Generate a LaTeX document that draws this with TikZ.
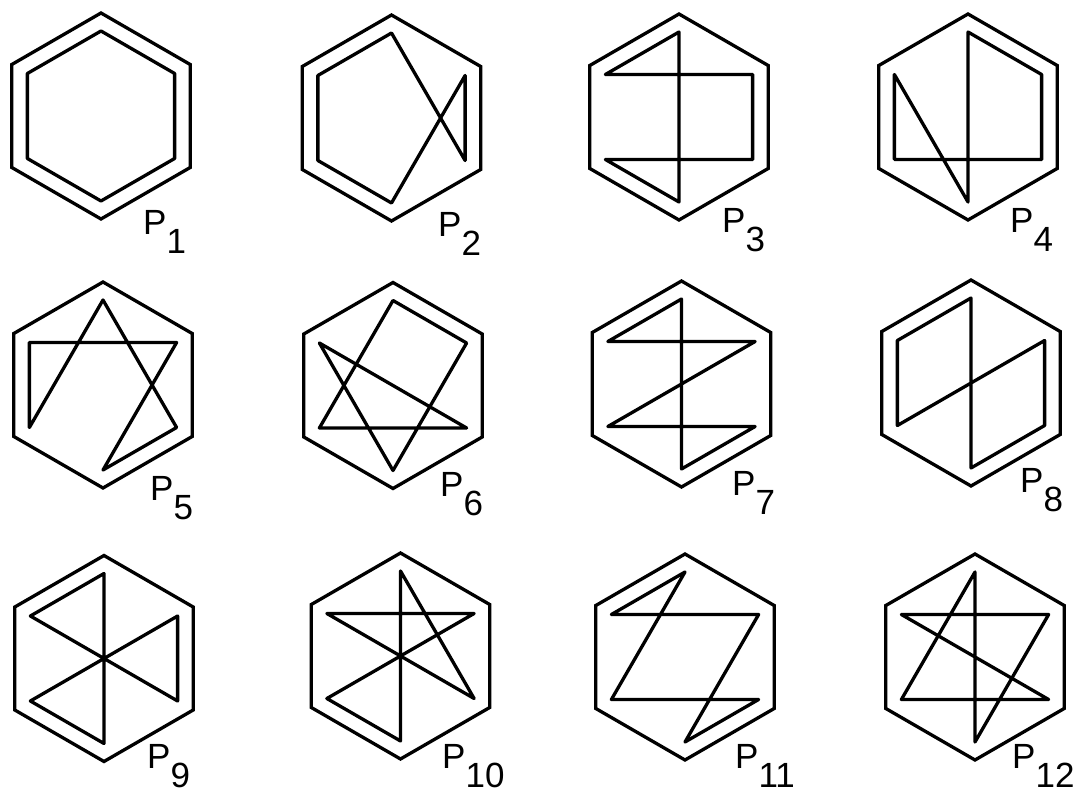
\documentclass[tikz,border=0pt]{standalone}
\usepackage{fontspec}
\setmainfont{Liberation Sans}
\usetikzlibrary{calc}
\tikzset{
  outerhex/.style={line width=3.3pt, line join=miter},
  innerpath/.style={line width=3.3pt, line join=round},
  plabel/.style={anchor=base west, inner sep=0pt, font=\fontsize{35}{40}\selectfont},
}
% #1 name, #2 cx, #3 cy (pixels from top), #4 first vertex, #5 remaining vertices,
% #6 label x, #7 label baseline y (pixels from top), #8 number
\newcommand{\hexpic}[8]{%
  \coordinate (#1) at ({#2},{796-#3});
  \draw[outerhex] ($(#1)+(90:103pt)$) -- ($(#1)+(30:103pt)$) -- ($(#1)+(-30:103pt)$)
     -- ($(#1)+(-90:103pt)$) -- ($(#1)+(-150:103pt)$) -- ($(#1)+(150:103pt)$) -- cycle;
  \foreach \k/\a in {1/90,2/30,3/-30,4/-90,5/-150,6/150}{\coordinate (#1-\k) at ($(#1)+(\a:85pt)$);}
  \draw[innerpath] (#1-#4) \foreach \k in {#5}{ -- (#1-\k)} -- cycle;
  \node[plabel] (#1-lab) at ({#6},{796-#7}) {P\raisebox{-19pt}{#8}};
}
\begin{document}
\begin{tikzpicture}[x=1pt,y=1pt]
\useasboundingbox (0,0) rectangle (1084,796);
\hexpic{pa}{101}{116}{1}{2,3,4,5,6}{143}{235}{1}
\hexpic{pb}{391.5}{118}{1}{3,2,4,5,6}{438}{237}{2}
\hexpic{pc}{679}{117}{1}{4,5,3,2,6}{722}{233}{3}
\hexpic{pd}{968}{117}{1}{2,3,5,6,4}{1010}{233}{4}
\hexpic{pe}{103}{385}{1}{3,4,2,6,5}{150}{500}{5}
\hexpic{pf}{393}{385.5}{1}{2,4,6,3,5}{440}{497}{6}
\hexpic{pg}{681.5}{384}{1}{6,2,5,3,4}{732}{495}{7}
\hexpic{ph}{971}{383}{1}{6,5,2,3,4}{1020}{492}{8}
\hexpic{pi}{104}{658.5}{1}{6,3,2,5,4}{147}{768}{9}
\hexpic{pj}{400.5}{656}{1}{3,6,2,5,4}{442}{768}{10}
\hexpic{pk}{685}{657}{1}{6,2,4,3,5}{735}{768}{11}
\hexpic{pl}{975}{657}{1}{4,2,6,3,5}{1012}{768}{12}
\end{tikzpicture}
\end{document}
